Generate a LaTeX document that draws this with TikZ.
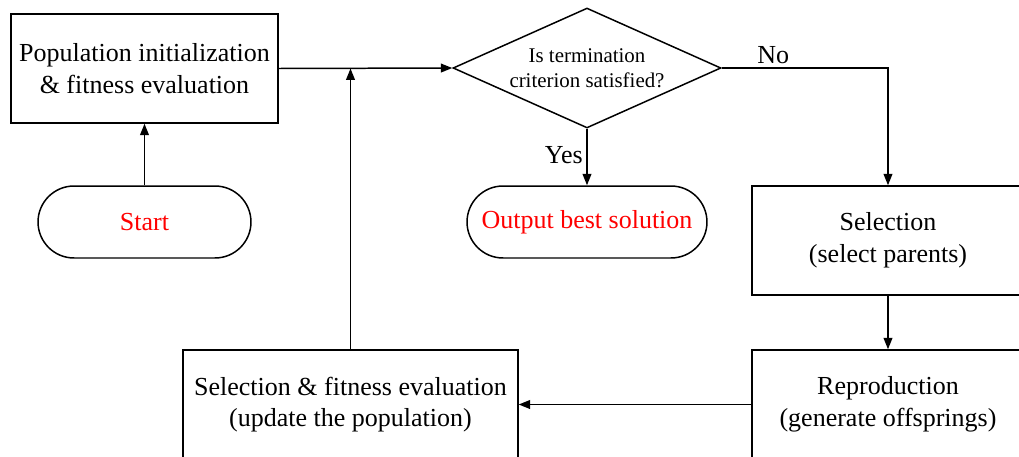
\documentclass[tikz,border=0pt]{standalone}
\usepackage{fontspec}
\setmainfont{Liberation Serif}
\usetikzlibrary{shapes.geometric, arrows.meta, positioning}

\begin{document}
\begin{tikzpicture}[x=0.02cm, y=-0.02cm,
      box/.style={draw, rectangle, line width=0.85pt, inner sep=0pt,
                  minimum height=2.18cm, align=center,
                  font=\fontsize{14.8}{18}\selectfont},
      term/.style={draw, rectangle, rounded corners=0.72cm, line width=0.85pt,
                   inner sep=0pt, minimum height=1.44cm, align=center,
                   text=red, font=\fontsize{14.8}{18}\selectfont},
      decision/.style={draw, diamond, aspect=2.23, line width=0.85pt,
                       inner sep=0pt, minimum width=5.36cm, minimum height=2.4cm,
                       align=center, font=\fontsize{11.9}{14.2}\selectfont},
      arr/.style={-{Triangle[length=6.5pt, width=5pt]}, line width=0.85pt},
      lbl/.style={inner sep=2pt, font=\fontsize{14.8}{18}\selectfont}
    ]
    \useasboundingbox (0,0) rectangle (1019,457);
    \clip (0,0) rectangle (1019,457);

    \node[box, minimum width=5.34cm]  (init)  at (144.5,68.5) {Population initialization\\\& fitness evaluation};
    \node[term, minimum width=4.26cm] (start) at (144.5,222)  {Start};
    \node[decision]                   (dec)   at (587,68)     {Is termination\\criterion satisfied?};
    \node[term, minimum width=4.8cm]  (out)   at (587,222)    {Output best solution};
    \node[box, minimum width=5.44cm]  (sel)   at (888,240.5)  {Selection\\(select parents)};
    \node[box, minimum width=5.44cm]  (rep)   at (888,404.5)  {Reproduction\\(generate offsprings)};
    \node[box, minimum width=6.7cm]   (upd)   at (350.5,404.5) {Selection \& fitness evaluation\\(update the population)};
    \coordinate (join) at (init.east -| upd.north);

    \draw[arr] (start) -- (init);
    \draw[arr] (init.east) -- (dec.west);
    \draw[arr] (upd.north) -- (join);
    \draw[arr] (dec.east) -- node[lbl, above, pos=0.31]{No} (dec.east -| sel.north) -- (sel.north);
    \draw[arr] (dec.south) -- node[lbl, left, pos=0.47]{Yes} (out.north);
    \draw[arr] (sel) -- (rep);
    \draw[arr] (rep.west) -- (upd.east);
  \end{tikzpicture}
\end{document}
